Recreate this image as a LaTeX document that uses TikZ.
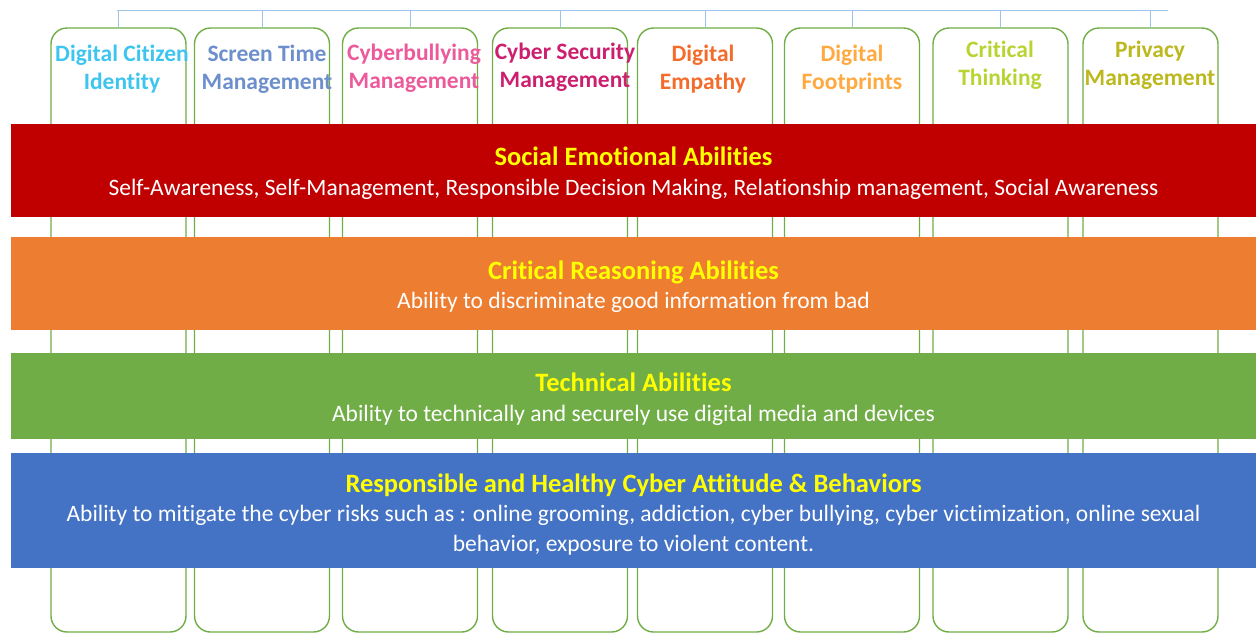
\documentclass[tikz,border=0pt]{standalone}
\usepackage{fontspec}
\setmainfont{Carlito}[Ligatures=NoCommon]
\definecolor{boxgreen}{HTML}{70AD47}
\definecolor{busblue}{HTML}{9DC3E6}
\definecolor{bandred}{HTML}{C00000}
\definecolor{bandorange}{HTML}{ED7D31}
\definecolor{bandgreen}{HTML}{70AD47}
\definecolor{bandblue}{HTML}{4472C4}
\definecolor{titleyellow}{HTML}{FFFF00}
\definecolor{cdc}{HTML}{3DC5F0}
\definecolor{cst}{HTML}{6D8FCB}
\definecolor{ccb}{HTML}{EC5A9B}
\definecolor{ccs}{HTML}{CC1F6E}
\definecolor{cde}{HTML}{F46C2B}
\definecolor{cdf}{HTML}{FFA940}
\definecolor{cct}{HTML}{B7D433}
\definecolor{cpm}{HTML}{BCB81E}
\newcommand{\bandtitle}[1]{{\color{titleyellow}\bfseries\fontsize{26.5}{30}\selectfont #1}}
\begin{document}
\begin{tikzpicture}[x=1pt, y=-1pt, col box/.style={rectangle,draw=boxgreen,line width=1.4pt,rounded corners=16pt,minimum width=135pt,minimum height=604pt,inner sep=0pt}, col text/.style={font=\bfseries\fontsize{23.5}{28}\selectfont,align=center,inner sep=0pt}, band/.style={rectangle,minimum width=1246pt,inner sep=0pt}, band text/.style={align=center,text=white,inner sep=0pt,font=\fontsize{23.5}{29.5}\selectfont}, bus/.style={draw=busblue,line width=1pt}]
\useasboundingbox (0,0) rectangle (1256,633);
\begin{scope}
\node[col box] (c1) at (118.5,330) {};
\node[col box] (c2) at (262,330) {};
\node[col box] (c3) at (410,330) {};
\node[col box] (c4) at (560,330) {};
\node[col box] (c5) at (705,330) {};
\node[col box] (c6) at (852,330) {};
\node[col box] (c7) at (1000.5,330) {};
\node[col box] (c8) at (1150.5,330) {};
\end{scope}
\begin{scope}[every node/.style={col text}]
\node[text=cdc] (t1) at (122,69) {Digital Citizen\\Identity};
\node[text=cst] (t2) at (267,69) {Screen Time\\Management};
\node[text=ccb] (t3) at (414,68) {Cyberbullying\\Management};
\node[text=ccs] (t4) at (565,67) {Cyber Security\\Management};
\node[text=cde] (t5) at (703,69) {Digital\\Empathy};
\node[text=cdf] (t6) at (852,69) {Digital\\Footprints};
\node[text=cct] (t7) at (1000,65) {Critical\\Thinking};
\node[text=cpm] (t8) at (1150,65) {Privacy\\Management};
\end{scope}
\coordinate (busL) at (117,10);
\coordinate (busR) at (1168,10);
\draw[bus] (busL) -- (busR);
\foreach \i in {1,...,8}
  \draw[bus] (c\i.north) -- (c\i.north |- busL);
\begin{scope}
\node[band, fill=bandred, minimum height=93pt] (b1) at (633.5,170) {};
\node[band, fill=bandorange, minimum height=93pt] (b2) at (633.5,283.5) {};
\node[band, fill=bandgreen, minimum height=86pt] (b3) at (633.5,396) {};
\node[band, fill=bandblue, minimum height=115pt] (b4) at (633.5,510.5) {};
\end{scope}
\begin{scope}[every node/.style={band text}]
\node (l1) at ([yshift=-3pt]b1.center) {\bandtitle{Social Emotional Abilities}\\Self-Awareness, Self-Management, Responsible Decision Making, Relationship management, Social Awareness};
\node (l2) at ([yshift=-3pt]b2.center) {\bandtitle{Critical Reasoning Abilities}\\Ability to discriminate good information from bad};
\node (l3) at ([yshift=-3pt]b3.center) {\bandtitle{Technical Abilities}\\Ability to technically and securely use digital media and devices};
\node (l4) at ([yshift=-4pt]b4.center) {\bandtitle{Responsible and Healthy Cyber Attitude \& Behaviors}\\Ability to mitigate the cyber risks such as : online grooming, addiction, cyber bullying, cyber victimization, online sexual\\behavior, exposure to violent content.};
\end{scope}
\end{tikzpicture}
\end{document}
